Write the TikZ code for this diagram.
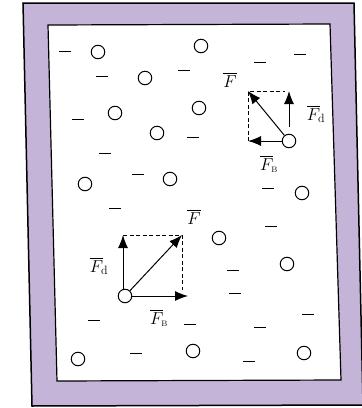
\documentclass[tikz,border=0pt]{standalone}
\usepackage{amsmath,amssymb}
\usepackage{tikz}
\usetikzlibrary{arrows.meta,positioning,calc}
\definecolor{wallpurple}{RGB}{196,180,216}

\begin{document}
\begin{tikzpicture}[x=1pt,y=-1pt,
  ion/.style={circle, draw, line width=1pt, fill=white, minimum size=13.5pt, inner sep=0pt},
  electron/.style={rectangle, fill=black, minimum width=12pt, minimum height=1pt, inner sep=0pt},
  force/.style={-{Latex[length=13pt,width=10pt]}, line width=1pt},
  comp/.style={dashed, line width=0.9pt, dash pattern=on 4pt off 2.5pt},
  lbl/.style={font=\fontsize{17}{19}\selectfont, inner sep=1pt}]
\useasboundingbox (0,0) rectangle (362,408);
% Wall of the box
\fill[wallpurple, draw=black, line width=1.5pt] (23,3) -- (354,3) -- (363,405) -- (32,406) -- cycle;
\fill[white, draw=black, line width=1.2pt] (48,25) -- (330,24) -- (341,380) -- (57,381) -- cycle;
% Positive ions
\foreach \x/\y [count=\i] in {98/52,201/46,145/78,115/113,199/108,157/133,
    170/179,85/184,302/193,219/238,287/264,193/351,304/353,78/359} {
  \node[ion] (i\i) at (\x,\y) {};
}
% Free electrons
\foreach \x/\y [count=\i] in {65/51,300/54,260/62,102/76,184/70,78/119,193/137,
    105/153,138/174,268/188,115/208,271/226,233/270,235/293,94/320,190/324,
    308/314,260/327,136/353,249/361} {
  \node[electron] (e\i) at (\x,\y) {};
}
% Upper right ion and its forces
\node[ion] (ua) at (289,141) {};
\coordinate (uF) at (248,91);
\coordinate (uB) at (248,141);
\coordinate (udS) at (289,127);
\coordinate (udT) at (289,91);
\coordinate (uC) at (285,91);
\draw[comp] (uB) -- (uF) -- (uC);
\draw[force] (ua) -- (uF);
\draw[force] (ua) -- (uB);
\draw[force] (udS) -- (udT);
\node[lbl] (uFl) at (230,80) {$\overline{F}$};
\node[lbl] (uFd) at (316,114) {$\overline{F}_{\!\scriptstyle\mathrm{d}}$};
\node[lbl] (uFB) at (269,164) {$\overline{F}_{\!\scriptscriptstyle\mathrm{B}}$};
% Lower left ion and its forces
\node[ion] (la) at (125,296) {};
\coordinate (lF) at (182,235);
\coordinate (lB) at (188,296);
\coordinate (ldS) at (123,289);
\coordinate (ldT) at (123,235);
\coordinate (lC) at (182,290);
\draw[comp] (ldT) -- (lF) -- (lC);
\draw[force] (la) -- (lF);
\draw[force] (la) -- (lB);
\draw[force] (ldS) -- (ldT);
\node[lbl] (lFl) at (194,217) {$\overline{F}$};
\node[lbl] (lFd) at (99,266) {$\overline{F}_{\!\scriptstyle\mathrm{d}}$};
\node[lbl] (lFB) at (159,318) {$\overline{F}_{\!\scriptscriptstyle\mathrm{B}}$};
\end{tikzpicture}
\end{document}
